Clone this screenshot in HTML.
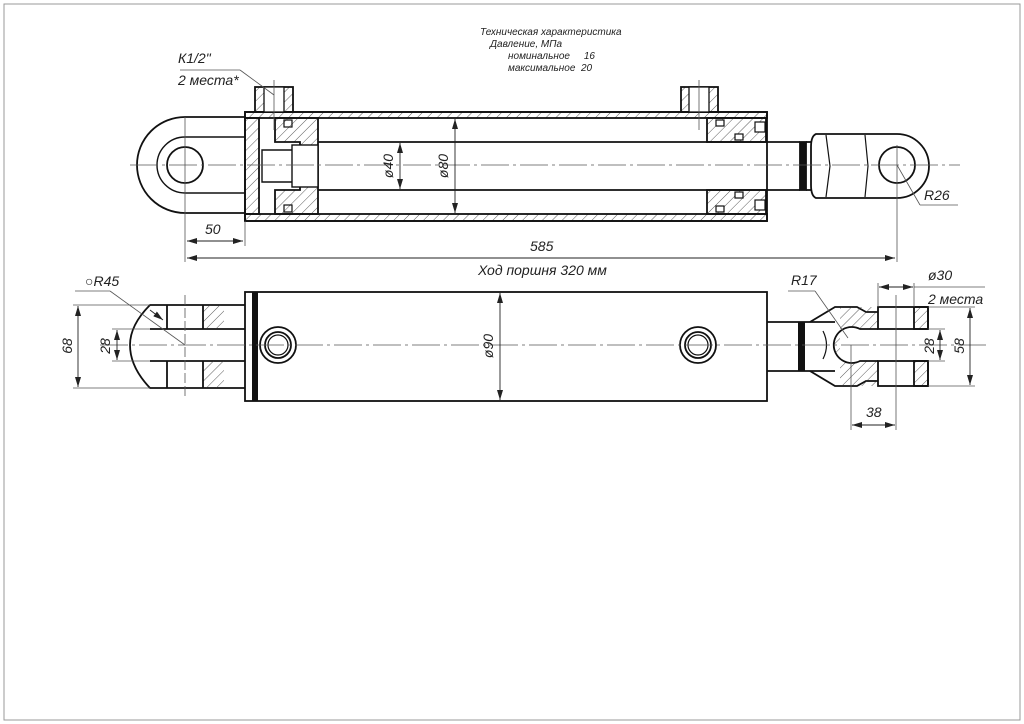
<!DOCTYPE html>
<html><head><meta charset="utf-8"><style>
html,body{margin:0;padding:0;background:#fff;}
svg{display:block;}
text{font-family:"Liberation Sans",sans-serif;font-style:italic;fill:#222;}
</style></head><body>
<svg width="1024" height="724" viewBox="0 0 1024 724" xmlns="http://www.w3.org/2000/svg">
<defs>
<pattern id="h" width="7" height="7" patternUnits="userSpaceOnUse" patternTransform="rotate(45)">
<line x1="0" y1="0" x2="0" y2="7" stroke="#333" stroke-width="0.8"/></pattern>
<marker id="a" markerWidth="10" markerHeight="6" refX="10" refY="3" orient="auto-start-reverse" markerUnits="userSpaceOnUse">
<path d="M0,0 L10,3 L0,6 z" fill="#222"/></marker>
</defs>
<rect x="4" y="4" width="1016" height="716" fill="none" stroke="#999" stroke-width="1"/>
<g stroke="#111" fill="none" stroke-width="1.8">
<!-- TOP VIEW -->
<!-- left eye -->
<path d="M245,117 L185,117 A48,48 0 0 0 185,213 L245,213"/>
<path d="M245,137 L185,137 A28,28 0 0 0 185,193 L245,193" stroke-width="1.4"/>
<circle cx="185" cy="165" r="18"/>
<!-- tube -->
<rect x="245" y="112" width="522" height="6" fill="url(#h)"/>
<rect x="245" y="214" width="522" height="7" fill="url(#h)"/>
<rect x="245" y="118" width="14" height="96" fill="url(#h)"/>
<rect x="245" y="112" width="522" height="109"/>
<!-- piston -->
<path d="M275,118 L318,118 L318,214 L275,214 L275,190 L300,190 L300,142 L275,142 z" fill="url(#h)"/>
<path d="M262,150 L300,150 L300,182 L262,182 z" fill="#fff" stroke-width="1.4"/>
<rect x="292" y="145" width="26" height="42" fill="#fff" stroke-width="1.4"/>
<rect x="284" y="120" width="8" height="7" stroke-width="1.2"/>
<rect x="284" y="205" width="8" height="7" stroke-width="1.2"/>
<!-- rod -->
<line x1="318" y1="142" x2="800" y2="142"/>
<line x1="318" y1="190" x2="800" y2="190"/>
<rect x="800" y="142" width="6" height="48" fill="#111"/>
<line x1="806" y1="142" x2="812" y2="142"/><line x1="806" y1="190" x2="812" y2="190"/>
<!-- gland -->
<path d="M707,118 L766,118 L766,142 L707,142 z" fill="url(#h)"/>
<path d="M707,190 L766,190 L766,214 L707,214 z" fill="url(#h)"/>
<rect x="716" y="120" width="8" height="6" stroke-width="1.2" fill="#fff"/>
<rect x="735" y="134" width="8" height="6" stroke-width="1.2" fill="#fff"/>
<rect x="716" y="206" width="8" height="6" stroke-width="1.2" fill="#fff"/>
<rect x="735" y="192" width="8" height="6" stroke-width="1.2" fill="#fff"/>
<rect x="755" y="122" width="10" height="10" stroke-width="1.2" fill="#fff"/>
<rect x="755" y="200" width="10" height="10" stroke-width="1.2" fill="#fff"/>
<!-- ports -->
<rect x="255" y="87" width="38" height="25" fill="url(#h)"/>
<rect x="264" y="87" width="20" height="25" fill="#fff" stroke-width="1.3"/>
<rect x="681" y="87" width="37" height="25" fill="url(#h)"/>
<rect x="689" y="87" width="20" height="25" fill="#fff" stroke-width="1.3"/>
<!-- rod end -->
<path d="M816,134 L897,134 A31,31 0 0 1 897,198 L816,198 Q811,196 811,185 L811,147 Q811,136 816,134 z"/>
<circle cx="897" cy="165" r="18"/>
<path d="M826,135 L830,166 L826,197" stroke-width="1.2"/>
<path d="M865,135 L868,166 L865,197" stroke-width="1.2"/>
<!-- BOTTOM VIEW -->
<rect x="245" y="292" width="522" height="109"/>
<rect x="252" y="292" width="6" height="109" fill="#111" stroke="none"/>
<circle cx="278" cy="345" r="18"/><circle cx="278" cy="345" r="13"/><circle cx="278" cy="345" r="10" stroke-width="1.2"/>
<circle cx="698" cy="345" r="18"/><circle cx="698" cy="345" r="13"/><circle cx="698" cy="345" r="10" stroke-width="1.2"/>
<!-- left clevis -->
<path d="M245,305 L150,305 Q130,325 130,345 Q130,367 150,388 L245,388"/>
<line x1="150" y1="329" x2="245" y2="329"/><line x1="150" y1="361" x2="245" y2="361"/>
<rect x="203" y="305" width="21" height="24" fill="url(#h)" stroke="none"/>
<rect x="203" y="361" width="21" height="27" fill="url(#h)" stroke="none"/>
<line x1="167" y1="305" x2="167" y2="329"/><line x1="203" y1="305" x2="203" y2="329"/>
<line x1="167" y1="361" x2="167" y2="388"/><line x1="203" y1="361" x2="203" y2="388"/>
<!-- right rod & clevis -->
<line x1="767" y1="322" x2="835" y2="322"/><line x1="767" y1="371" x2="835" y2="371"/>
<rect x="798" y="322" width="7" height="49" fill="#111" stroke="none"/>
<path d="M810,322 L835,307 L857,307 L866,312 L878,312" />
<path d="M810,371 L835,386 L857,386 L866,381 L878,381"/>
<path d="M840,307 L878,307 L878,329 L860,329 A18,18 0 1 0 860,361 L878,361 L878,386 L840,386 z" fill="url(#h)" stroke="none"/>
<path d="M878,329 L860,329 A18,18 0 1 0 860,361 L878,361"/>
<path d="M823,331 Q830,345 823,359" stroke-width="1.2"/>
<rect x="878" y="307" width="50" height="22"/><rect x="878" y="361" width="50" height="25"/>
<rect x="914" y="307" width="14" height="22" fill="url(#h)"/><rect x="914" y="361" width="14" height="25" fill="url(#h)"/>
</g>
<!-- center lines & thin lines -->
<g stroke="#555" stroke-width="0.8" fill="none">
<line x1="130" y1="165" x2="960" y2="165" stroke-dasharray="28,4,3,4"/>
<line x1="100" y1="345" x2="990" y2="345" stroke-dasharray="28,4,3,4"/>
<line x1="185" y1="117" x2="185" y2="262"/>
<line x1="245" y1="221" x2="245" y2="246"/>
<line x1="897" y1="145" x2="897" y2="262"/>
<line x1="274" y1="80" x2="274" y2="130"/>
<line x1="699" y1="80" x2="699" y2="130"/>
<line x1="185" y1="295" x2="185" y2="398" stroke-dasharray="10,3"/>
<line x1="73" y1="305" x2="150" y2="305"/><line x1="73" y1="388" x2="150" y2="388"/>
<line x1="112" y1="329" x2="150" y2="329"/><line x1="112" y1="361" x2="150" y2="361"/>
<line x1="928" y1="307" x2="975" y2="307"/><line x1="928" y1="386" x2="975" y2="386"/>
<line x1="928" y1="329" x2="945" y2="329"/><line x1="928" y1="361" x2="945" y2="361"/>
<line x1="878" y1="283" x2="878" y2="307"/><line x1="914" y1="283" x2="914" y2="307"/>
<line x1="914" y1="287" x2="985" y2="287"/>
<line x1="851" y1="345" x2="851" y2="430"/><line x1="896" y1="295" x2="896" y2="430"/>
<line x1="180" y1="70" x2="240" y2="70"/><line x1="240" y1="70" x2="274" y2="95"/>
<line x1="75" y1="291" x2="110" y2="291"/><line x1="110" y1="291" x2="185" y2="345"/>
<line x1="788" y1="291" x2="815" y2="291"/><line x1="815" y1="291" x2="848" y2="338"/>
<line x1="897" y1="165" x2="920" y2="205"/><line x1="920" y1="205" x2="958" y2="205"/>
</g>
<g stroke="#222" stroke-width="0.9" fill="none">
<line x1="187" y1="241" x2="243" y2="241" marker-start="url(#a)" marker-end="url(#a)"/>
<line x1="187" y1="258" x2="895" y2="258" marker-start="url(#a)" marker-end="url(#a)"/>
<line x1="400" y1="143" x2="400" y2="189" marker-start="url(#a)" marker-end="url(#a)"/>
<line x1="455" y1="119" x2="455" y2="213" marker-start="url(#a)" marker-end="url(#a)"/>
<line x1="500" y1="293" x2="500" y2="400" marker-start="url(#a)" marker-end="url(#a)"/>
<line x1="78" y1="306" x2="78" y2="387" marker-start="url(#a)" marker-end="url(#a)"/>
<line x1="117" y1="330" x2="117" y2="360" marker-start="url(#a)" marker-end="url(#a)"/>
<line x1="970" y1="308" x2="970" y2="385" marker-start="url(#a)" marker-end="url(#a)"/>
<line x1="940" y1="330" x2="940" y2="360" marker-start="url(#a)" marker-end="url(#a)"/>
<line x1="852" y1="425" x2="895" y2="425" marker-start="url(#a)" marker-end="url(#a)"/>
<line x1="879" y1="287" x2="913" y2="287" marker-start="url(#a)" marker-end="url(#a)"/>
<line x1="150" y1="310" x2="163" y2="320" marker-end="url(#a)"/>
</g>
<!-- texts -->
<g font-size="10">
<text x="480" y="35">Техническая характеристика</text>
<text x="490" y="47">Давление, МПа</text>
<text x="508" y="59">номинальное&#160;&#160;&#160;&#160;&#160;16</text>
<text x="508" y="71">максимальное&#160;&#160;20</text>
</g>
<g font-size="14">
<text x="178" y="63">К1/2"</text>
<text x="178" y="85">2 места*</text>
<text x="205" y="234">50</text>
<text x="530" y="251">585</text>
<text x="478" y="275">Ход поршня 320 мм</text>
<text x="924" y="200">R26</text>
<text x="85" y="286">○R45</text>
<text x="791" y="285">R17</text>
<text x="928" y="280">ø30</text>
<text x="928" y="304">2 места</text>
<text x="866" y="417">38</text>
<text transform="translate(393,166) rotate(-90)" text-anchor="middle">ø40</text>
<text transform="translate(448,166) rotate(-90)" text-anchor="middle">ø80</text>
<text transform="translate(493,346) rotate(-90)" text-anchor="middle">ø90</text>
<text transform="translate(72,346) rotate(-90)" text-anchor="middle">68</text>
<text transform="translate(110,346) rotate(-90)" text-anchor="middle">28</text>
<text transform="translate(934,346) rotate(-90)" text-anchor="middle">28</text>
<text transform="translate(964,346) rotate(-90)" text-anchor="middle">58</text>
</g>
</svg>
</body></html>
